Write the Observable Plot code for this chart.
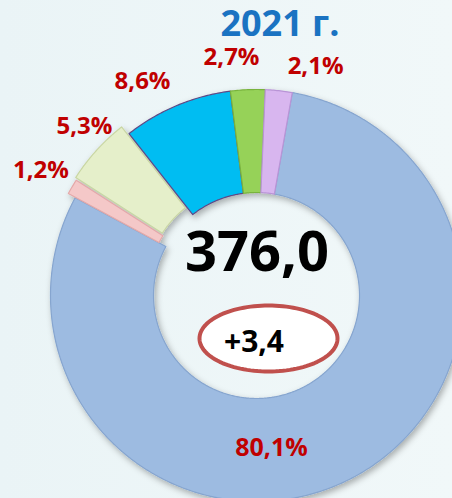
<!DOCTYPE html>
<html><head><meta charset="utf-8">
<script src="https://cdn.jsdelivr.net/npm/d3@7"></script>
<script src="https://cdn.jsdelivr.net/npm/@observablehq/plot@0.6"></script>
<style>
html,body{margin:0;padding:0;background:#edf6f7;}
#chart svg{display:block}
</style></head><body><div id="chart"></div>
<script>
// ---- data ----
const categories = ["Категория 1","Категория 2","Категория 3","Категория 4","Категория 5","Категория 6"];
const values = [80.1, 1.2, 5.3, 8.6, 2.7, 2.1];
const valueLabels = ["80,1%", "1,2%", "5,3%", "8,6%", "2,7%", "2,1%"];
const title = "2021 г.";
const totalLabel = "376,0";
const changeLabel = "+3,4";

// ---- styles / layout ----
const fills   = ["#9dbbe1", "#f4c8c8", "#e5efca", "#00bdf2", "#96d258", "#d8b6ef"];
const strokes = ["#86a5cf", "#e4a9a9", "#c9d6a3", "#5e4a86", "#78b33c", "#b994d6"];
const explode = [0, 8, 10, 0, 0, 0];
const labelPolar = [[174.4, 154], [299.9, 248.6], [314.4, 240.8], [331.9, 242], [354, 238.8], [14.5, 236]];
const R_OUT = 206, R_IN = 103, START_DEG = 10;
const W = 452, H = 498, CX = 256, CY = 295;
const rad = d => d * Math.PI / 180;

const arcs = d3.pie().sort(null).value(d => d)
  .startAngle(rad(START_DEG)).endAngle(rad(START_DEG) + 2 * Math.PI)(values);

const slicePts = [];
arcs.forEach((a, i) => {
  const mid = (a.startAngle + a.endAngle) / 2;
  const ox = explode[i] * Math.sin(mid), oy = explode[i] * Math.cos(mid);
  const n = Math.max(2, Math.ceil((a.endAngle - a.startAngle) / rad(0.5)));
  const ring = [];
  for (let k = 0; k <= n; k++) { const t = a.startAngle + (a.endAngle - a.startAngle) * k / n; ring.push([R_OUT * Math.sin(t), R_OUT * Math.cos(t)]); }
  for (let k = n; k >= 0; k--) { const t = a.startAngle + (a.endAngle - a.startAngle) * k / n; ring.push([R_IN * Math.sin(t), R_IN * Math.cos(t)]); }
  ring.push(ring[0]);
  ring.forEach(([x, y]) => slicePts.push({i, key: categories[i], x: x + ox, y: y + oy}));
});

const labelData = valueLabels.map((t, i) => ({
  text: t, big: i === 0,
  x: labelPolar[i][1] * Math.sin(rad(labelPolar[i][0])),
  y: labelPolar[i][1] * Math.cos(rad(labelPolar[i][0])) + 1
}));

const ell = {cx: 12, cy: -43, rx: 69, ry: 33};
const ellPts = d3.range(0, 361, 3).map(d => ({x: ell.cx + ell.rx * Math.cos(rad(d)), y: ell.cy + ell.ry * Math.sin(rad(d))}));

const font = "'Open Sans', 'DejaVu Sans', sans-serif";

const chart = Plot.plot({
  width: W, height: H,
  margin: 0,
  x: {domain: [-CX, W - CX], range: [0, W], axis: null},
  y: {domain: [CY - H, CY], range: [H, 0], axis: null},
  color: {type: "identity"},
  style: {background: "linear-gradient(90deg,#eaf4f6 0%,#f1f8f9 100%)", fontFamily: font},
  marks: [
    Plot.line(slicePts, {x: "x", y: "y", z: "key", fill: d => fills[d.i], stroke: d => strokes[d.i], strokeWidth: 1.2, curve: "linear"}),
    Plot.line(ellPts, {x: "x", y: "y", fill: "white", stroke: "#c0504d", strokeWidth: 4}),
    Plot.text(labelData, {x: "x", y: "y", text: "text", fill: "#c00000", fontWeight: "bold", fontSize: d => d.big ? 25 : 24}),
    Plot.text([totalLabel], {x: 0.5, y: 42, text: d => d, fill: "black", fontWeight: "bold", fontSize: 56}),
    Plot.text([changeLabel], {x: -2.5, y: -46.5, text: d => d, fill: "black", fontWeight: "bold", fontSize: 30}),
    Plot.text([title], {x: 23.5, y: 271.5, text: d => d, fill: "#1a73c2", fontWeight: "bold", fontSize: 36})
  ]
});

// soft drop shadow for the ring slices
const svg = d3.select(chart);
const defs = svg.insert("defs", ":first-child");
const f = defs.append("filter").attr("id", "sh").attr("x", "-20%").attr("y", "-20%").attr("width", "140%").attr("height", "140%");
f.append("feDropShadow").attr("dx", 2).attr("dy", 3).attr("stdDeviation", 3).attr("flood-color", "#000").attr("flood-opacity", 0.3);
svg.select("g[aria-label=line]").attr("filter", "url(#sh)");

document.getElementById("chart").append(chart);
</script>
</body></html>
